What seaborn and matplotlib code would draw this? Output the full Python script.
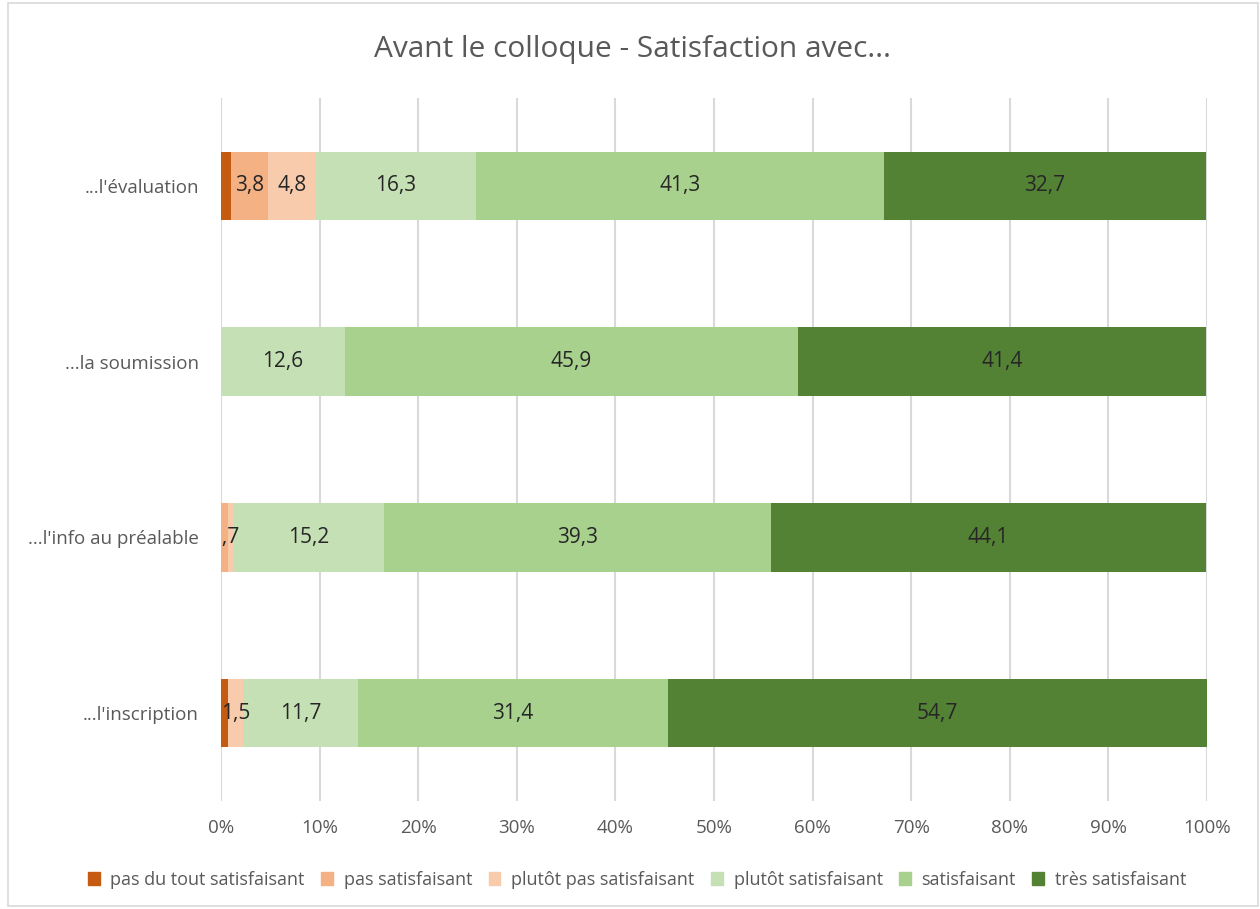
import matplotlib
matplotlib.use("Agg")
import matplotlib.pyplot as plt
import matplotlib.patches as mpatches
import seaborn as sns
import pandas as pd
import numpy as np

categories = ["...l'évaluation", "...la soumission", "...l'info au préalable", "...l'inscription"]
series_names = ["pas du tout satisfaisant", "pas satisfaisant", "plutôt pas satisfaisant",
                "plutôt satisfaisant", "satisfaisant", "très satisfaisant"]
pas_du_tout = [1.0, 0.0, 0.0, 0.7]
pas_satisf = [3.8, 0.0, 0.7, 0.0]
plutot_pas = [4.8, 0.0, 0.6, 1.5]
plutot_satisf = [16.3, 12.6, 15.2, 11.7]
satisf = [41.3, 45.9, 39.3, 31.4]
tres_satisf = [32.7, 41.4, 44.1, 54.7]
# which segment values are labelled (as in the reference)
label_shown = [
    [False, True, True, True, True, True],
    [False, False, False, True, True, True],
    [False, True, False, True, True, True],
    [False, False, True, True, True, True],
]
colors = ["#C55A11", "#F4B183", "#F8CBAD", "#C5E0B4", "#A9D18E", "#548235"]

sns.set_theme(style="white")
plt.rcParams['font.family'] = ['Open Sans', 'DejaVu Sans']

values = np.array([pas_du_tout, pas_satisf, plutot_pas, plutot_satisf, satisf, tres_satisf])
cum = np.cumsum(values, axis=0)

fig = plt.figure(figsize=(12.6, 9.09), dpi=100)
W, H = 1260, 909
ax = fig.add_axes([221 / W, 1 - 801 / H, (1207 - 221) / W, (801 - 98) / H])

# stacked bars: draw cumulative totals from largest to smallest
for i in range(len(series_names) - 1, -1, -1):
    df = pd.DataFrame({"cat": categories, "val": cum[i]})
    sns.barplot(data=df, x="val", y="cat", color=colors[i], width=0.39,
                orient="h", ax=ax, saturation=1, zorder=3, linewidth=0,
                edgecolor="none")

# data labels
for j, cat in enumerate(categories):
    for i in range(len(series_names)):
        if not label_shown[j][i]:
            continue
        v = values[i, j]
        center = cum[i, j] - v / 2
        ax.text(center, j, f"{v:.1f}".replace(".", ","), ha="center", va="center",
                fontsize=15, color="#262626", zorder=5, clip_on=True)

ax.set_xlim(0, 100)
ax.set_ylim(3.5, -0.5)
ax.set_xticks(np.arange(0, 101, 10))
ax.set_xticklabels([f"{t}%" for t in range(0, 101, 10)], fontsize=13.5, color="#595959")
ax.tick_params(axis="y", labelsize=13.5, labelcolor="#595959", pad=16, length=0)
ax.tick_params(axis="x", pad=13, length=0)
ax.set_xlabel("")
ax.set_ylabel("")
ax.grid(axis="x", color="#D9D9D9", linewidth=1.5, zorder=0)
ax.set_axisbelow(True)
for s in ax.spines.values():
    s.set_visible(False)

fig.text(633 / W, 1 - 49 / H, "Avant le colloque - Satisfaction avec...", ha="center", va="center",
         fontsize=21.5, color="#595959")

handles = [mpatches.Patch(color=c, label=n) for c, n in zip(colors, series_names)]
fig.legend(handles=handles, loc="center", bbox_to_anchor=(637 / W, 1 - 880 / H), ncol=6,
           frameon=False, fontsize=13, handlelength=0.66, handleheight=0.7,
           handletextpad=0.6, columnspacing=0.9, labelcolor="#595959")

fig.patches.append(mpatches.Rectangle((8 / W, 3 / H), (1258 - 8) / W, (906 - 3) / H,
                                      transform=fig.transFigure, fill=False,
                                      edgecolor="#D9D9D9", linewidth=1.2))

fig.savefig("out.png", dpi=100)
